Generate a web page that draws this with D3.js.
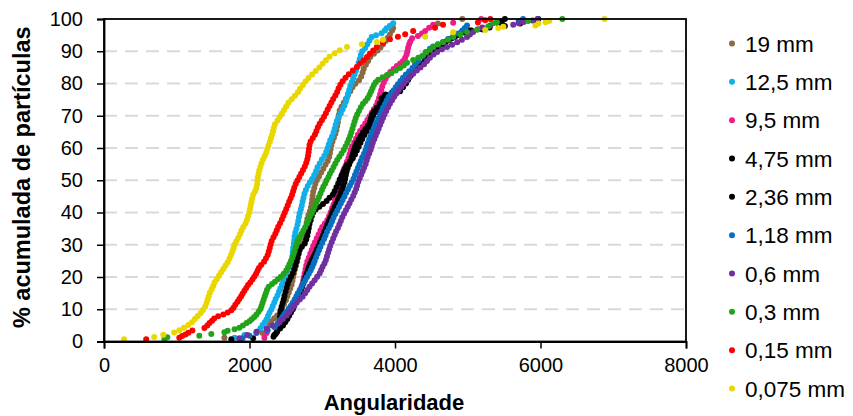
<!DOCTYPE html>
<html><head><meta charset="utf-8">
<script src="https://cdn.jsdelivr.net/npm/d3@7"></script>
<style>body{margin:0;background:#fff}svg{display:block}text{font-family:"Liberation Sans",Arial,sans-serif}</style>
</head><body><svg id="chart" width="853" height="416"></svg>
<script>
// ---- data (angularidade, % acumulada) ----
const seriesNames = ["19 mm","12,5 mm","9,5 mm","4,75 mm","2,36 mm","1,18 mm","0,6 mm","0,3 mm","0,15 mm","0,075 mm"];
const seriesColors = ["#8B6A43","#12AEE8","#EC1C8A","#000000","#000000","#0A6FC2","#7030A0","#22A31A","#FF0000","#E8D800"];
const xTickValues = [0,2000,4000,6000,8000];
const yTickValues = [0,10,20,30,40,50,60,70,80,90,100];
const xTitle = "Angularidade";
const yTitle = "% acumulada de partículas";

const s19mm = [[1655,1.2],[2180,2.6],[2240,3.9],[2275,5.2],[2300,6.3],[2340,7.2],[2380,8.1],[2420,9.2],[2450,10.4],[2475,11.6],[2500,12.8],[2520,14.0],[2540,15.2],[2560,16.4],[2578,17.6],[2590,18.8],[2600,20.0],[2612,21.2],[2625,22.4],[2640,23.6],[2655,24.8],[2662,26.0],[2670,27.2],[2680,28.4],[2695,29.6],[2715,30.8],[2735,32.0],[2750,33.2],[2762,34.4],[2775,35.6],[2785,36.8],[2795,38.0],[2810,39.2],[2830,40.4],[2845,41.6],[2855,42.8],[2862,44.0],[2868,45.2],[2875,46.4],[2890,47.6],[2905,48.8],[2925,50.0],[2955,51.2],[2985,52.4],[3015,53.6],[3045,54.8],[3075,56.0],[3095,57.2],[3105,58.4],[3115,59.6],[3125,60.8],[3140,62.0],[3160,63.2],[3180,64.4],[3195,65.6],[3205,66.8],[3215,68.0],[3222,69.2],[3230,70.4],[3240,71.6],[3265,72.8],[3295,74.0],[3325,75.2],[3355,76.4],[3385,77.6],[3415,78.8],[3455,79.9],[3505,81.0],[3535,82.2],[3555,83.4],[3570,84.6],[3600,85.8],[3630,87.0],[3660,88.2],[3710,89.2],[3760,90.2],[3800,91.2],[3835,92.2],[3870,93.2],[3900,94.2],[3930,95.2],[3960,96.4],[3975,97.2],[4590,98.6],[4925,100]];
const s12_5mm = [[1795,1.2],[1930,2.0],[2095,3.0],[2150,4.1],[2180,5.1],[2210,6.0],[2235,6.9],[2255,7.9],[2275,8.9],[2300,9.9],[2320,11.0],[2340,12.1],[2360,13.2],[2385,14.3],[2405,15.4],[2425,16.5],[2445,17.6],[2465,18.7],[2485,19.8],[2505,20.9],[2525,22.0],[2550,23.1],[2575,24.2],[2585,25.4],[2590,26.6],[2595,27.8],[2600,29.0],[2608,30.2],[2615,31.4],[2620,32.6],[2630,33.8],[2645,35.0],[2660,36.2],[2670,37.4],[2680,38.6],[2690,39.8],[2705,41.0],[2718,42.2],[2730,43.4],[2742,44.6],[2755,45.8],[2775,47.0],[2800,48.2],[2830,49.4],[2860,50.4],[2890,51.6],[2915,52.8],[2935,54.0],[2965,55.2],[2995,56.4],[3030,57.6],[3055,58.8],[3075,60.0],[3090,61.2],[3110,62.4],[3135,63.6],[3155,64.8],[3170,66.0],[3185,67.2],[3200,68.4],[3225,69.6],[3255,70.8],[3280,72.0],[3305,73.2],[3325,74.4],[3340,75.6],[3355,76.8],[3370,78.0],[3385,79.2],[3405,80.4],[3425,81.6],[3445,82.8],[3465,84.0],[3485,85.2],[3500,86.4],[3515,87.6],[3530,88.8],[3550,90.0],[3590,91.0],[3620,92.2],[3650,93.3],[3680,94.4],[3740,95.0],[3815,95.6],[3860,96.4],[3885,97.1],[3930,97.9],[3975,98.7]];
const s9_5mm = [[2205,1.2],[2235,2.6],[2380,3.8],[2455,5.0],[2495,6.3],[2525,7.5],[2550,8.7],[2575,9.9],[2600,11.1],[2625,12.3],[2650,13.4],[2670,14.3],[2690,15.2],[2710,16.4],[2725,17.6],[2738,18.8],[2748,20.0],[2758,21.2],[2770,22.4],[2780,23.6],[2795,24.8],[2815,26.0],[2835,27.2],[2855,28.4],[2875,29.6],[2900,30.8],[2925,32.0],[2950,33.2],[2975,34.4],[3000,35.5],[3035,36.6],[3070,37.7],[3095,38.9],[3115,40.1],[3135,41.3],[3155,42.5],[3175,43.7],[3195,44.9],[3210,46.1],[3225,47.3],[3240,48.5],[3250,49.7],[3262,50.9],[3275,52.1],[3295,53.3],[3320,54.5],[3340,55.7],[3360,56.9],[3375,58.1],[3390,59.3],[3410,60.5],[3440,61.7],[3465,62.9],[3490,64.1],[3520,65.3],[3555,66.5],[3590,67.6],[3620,68.7],[3650,69.8],[3680,70.9],[3710,72.0],[3740,73.1],[3760,74.3],[3780,75.5],[3795,76.7],[3810,77.9],[3825,79.1],[3845,80.3],[3870,81.4],[3900,82.5],[3935,83.6],[3980,84.5],[4025,85.4],[4070,86.2],[4110,87.0],[4140,88.0],[4160,89.0],[4170,90.0],[4180,91.1],[4195,92.2],[4210,93.0],[4235,94.0],[4315,94.7],[4370,95.5],[4415,96.3],[4470,97.3],[4525,98.2],[4800,98.8],[5185,100]];
const s4_75mm = [[1750,0.7],[2330,1.5],[2360,2.3],[2375,3.1],[2390,3.9],[2400,4.8],[2410,5.7],[2415,6.6],[2420,7.6],[2425,8.6],[2430,9.7],[2440,10.8],[2455,11.9],[2470,13.0],[2480,14.2],[2495,15.4],[2510,16.6],[2525,17.8],[2545,19.0],[2570,20.1],[2595,21.2],[2615,22.4],[2630,23.6],[2645,24.8],[2660,26.0],[2675,27.2],[2690,28.4],[2720,29.4],[2760,30.4],[2780,31.6],[2795,32.8],[2805,34.0],[2815,35.2],[2825,36.4],[2840,37.6],[2855,38.8],[2875,40.0],[2910,41.0],[2960,41.8],[3010,42.6],[3060,43.6],[3100,44.6],[3145,45.5],[3170,46.6],[3195,47.8],[3220,49.0],[3240,50.2],[3265,51.4],[3290,52.6],[3315,53.8],[3340,54.8],[3380,55.8],[3420,56.8],[3450,58.0],[3475,59.2],[3500,60.4],[3525,61.6],[3550,62.8],[3580,64.0],[3610,65.2],[3640,66.4],[3665,67.6],[3680,68.8],[3700,70.0],[3740,71.2],[3790,72.4],[3810,73.8],[3830,75.2],[3860,76.2],[3950,76.8],[4070,77.6],[4110,78.8],[4150,80.0],[4180,81.2],[4215,82.4],[4250,83.5],[4290,84.6],[4370,86.0],[4440,88.0],[4500,89.6],[4560,90.6],[4620,91.8],[4700,93.0],[4780,94.0],[4855,95.0],[4900,95.6],[5030,96.4],[5200,96.8],[5420,98.6],[5470,99.3],[5510,100]];
const s2_36mm = [[2050,1.0],[2340,2.0],[2380,3.0],[2420,4.0],[2460,5.0],[2490,6.0],[2520,7.0],[2545,8.0],[2570,9.0],[2595,10.0],[2615,11.0],[2635,12.0],[2655,13.0],[2670,14.0],[2690,15.0],[2710,16.0],[2725,17.0],[2740,18.0],[2755,19.0],[2770,20.0],[2785,21.0],[2800,22.0],[2815,23.0],[2835,24.1],[2855,25.2],[2880,26.3],[2905,27.4],[2925,28.5],[2950,29.6],[2970,30.7],[2990,31.8],[3010,32.9],[3030,34.0],[3050,35.1],[3070,36.2],[3090,37.3],[3110,38.4],[3130,39.5],[3150,40.6],[3170,41.7],[3195,42.8],[3215,43.9],[3235,45.0],[3255,46.1],[3275,47.2],[3290,48.3],[3305,49.4],[3315,50.5],[3325,51.6],[3335,52.7],[3350,53.8],[3370,54.9],[3390,56.0],[3405,57.1],[3420,58.2],[3435,59.3],[3450,60.4],[3470,61.5],[3500,62.6],[3530,63.7],[3560,64.8],[3595,65.9],[3630,67.0],[3655,68.1],[3670,69.2],[3685,70.3],[3710,71.4],[3750,72.5],[3790,73.8],[3815,75.4],[3870,76.6],[3960,77.2],[4040,77.9],[4080,78.9],[4120,79.9],[4160,80.9],[4190,81.9],[4220,82.9],[4260,84.0],[4310,85.0],[4360,86.2],[4410,87.6],[4460,88.8],[4525,90.0],[4590,91.0],[4660,92.2],[4740,93.4],[4820,94.4],[4895,95.3],[4960,95.8],[5050,96.4],[5200,96.8],[5300,97.4],[5510,97.8],[5720,98.6],[5930,99.3],[5970,100]];
const s1_18mm = [[1905,1.0],[2000,1.8],[2095,2.6],[2250,3.5],[2345,4.4],[2385,5.5],[2415,6.6],[2450,7.6],[2480,8.5],[2510,9.3],[2540,10.2],[2570,11.1],[2595,12.0],[2620,13.0],[2645,14.0],[2665,15.0],[2690,16.0],[2715,17.0],[2740,18.0],[2765,19.0],[2790,20.0],[2815,21.0],[2840,22.0],[2860,23.0],[2880,24.0],[2895,25.0],[2915,26.1],[2935,27.2],[2955,28.3],[2975,29.4],[3000,30.6],[3025,31.8],[3045,32.9],[3065,34.0],[3090,35.1],[3115,36.2],[3135,37.3],[3155,38.4],[3180,39.5],[3205,40.6],[3230,41.7],[3255,42.8],[3280,43.9],[3305,45.0],[3330,46.1],[3355,47.2],[3380,48.3],[3405,49.4],[3430,50.5],[3450,51.6],[3470,52.7],[3490,53.8],[3510,54.9],[3530,56.0],[3550,57.1],[3575,58.2],[3595,59.3],[3610,60.4],[3625,61.5],[3645,62.6],[3665,63.7],[3685,64.8],[3705,65.9],[3725,67.0],[3745,68.1],[3770,69.2],[3795,70.3],[3815,71.4],[3835,72.5],[3860,73.6],[3885,74.7],[3910,75.8],[3945,76.8],[3980,77.8],[4010,78.8],[4040,79.8],[4075,80.8],[4110,81.8],[4150,82.8],[4195,83.8],[4240,84.8],[4275,85.8],[4320,87.0],[4370,88.4],[4425,89.8],[4480,90.8],[4525,91.5],[4590,92.2],[4660,92.9],[4730,93.8],[4800,94.6],[4870,95.5],[4925,96.4],[4960,97.2],[4990,98.0],[5700,99.3],[5760,100]];
const s0_6mm = [[1860,1.0],[1970,2.0],[2100,3.0],[2235,4.0],[2315,5.0],[2415,6.0],[2460,7.0],[2510,8.1],[2545,9.1],[2580,10.1],[2615,11.1],[2650,12.1],[2690,13.0],[2730,13.9],[2765,15.0],[2795,16.0],[2825,17.0],[2860,18.0],[2895,19.0],[2930,20.1],[2965,21.2],[2985,22.2],[3005,23.2],[3030,24.2],[3050,25.3],[3065,26.4],[3080,27.5],[3095,28.6],[3110,29.7],[3130,30.8],[3150,31.9],[3170,33.0],[3190,34.1],[3215,35.2],[3235,36.3],[3255,37.4],[3275,38.5],[3300,39.6],[3325,40.7],[3350,41.8],[3375,42.9],[3400,44.0],[3425,45.1],[3445,46.2],[3465,47.3],[3480,48.4],[3495,49.5],[3515,50.6],[3535,51.7],[3555,52.8],[3575,53.9],[3595,55.0],[3610,56.1],[3625,57.2],[3645,58.3],[3665,59.4],[3680,60.5],[3695,61.6],[3715,62.7],[3735,63.8],[3755,64.9],[3775,66.0],[3795,67.1],[3815,68.2],[3835,69.3],[3855,70.4],[3880,71.5],[3905,72.6],[3930,73.7],[3960,74.8],[3990,75.9],[4020,76.9],[4050,77.9],[4085,78.9],[4120,79.9],[4160,80.9],[4200,81.9],[4250,83.0],[4300,84.0],[4350,85.0],[4400,86.0],[4440,87.0],[4480,88.0],[4530,89.0],[4580,89.8],[4645,90.6],[4715,91.3],[4785,92.0],[4855,92.8],[4920,93.6],[4990,94.4],[5030,95.2],[5075,96.0],[5140,96.8],[5200,97.4],[5310,98.0],[5625,98.2],[5700,98.7],[5770,99.1],[5890,99.5],[5960,100]];
const s0_3mm = [[830,0.7],[870,1.3],[1310,1.8],[1475,2.3],[1655,2.9],[1700,3.3],[1795,3.8],[1860,4.3],[1910,5.0],[1960,5.7],[2000,6.3],[2030,6.9],[2065,7.6],[2095,8.3],[2125,9.2],[2150,10.1],[2165,11.0],[2180,12.0],[2195,13.0],[2210,14.0],[2225,15.0],[2240,16.0],[2265,17.0],[2310,17.8],[2350,18.5],[2390,19.3],[2430,20.1],[2470,21.0],[2505,22.0],[2530,23.0],[2550,24.0],[2570,25.0],[2590,26.0],[2605,27.0],[2620,28.1],[2635,29.2],[2650,30.3],[2665,31.4],[2690,32.4],[2715,33.4],[2740,34.4],[2765,35.4],[2790,36.5],[2810,37.6],[2830,38.7],[2855,39.8],[2875,40.8],[2895,41.8],[2915,42.8],[2935,43.8],[2955,44.8],[2975,45.9],[2995,47.0],[3015,48.0],[3040,49.0],[3060,50.0],[3085,51.0],[3105,52.0],[3130,53.0],[3155,54.1],[3180,55.2],[3205,56.3],[3235,57.3],[3265,58.3],[3295,59.4],[3320,60.5],[3345,61.6],[3365,62.7],[3385,63.8],[3400,64.9],[3415,66.0],[3430,67.1],[3445,68.2],[3460,69.3],[3480,70.4],[3505,71.5],[3530,72.6],[3560,73.7],[3595,74.6],[3625,75.5],[3650,76.5],[3670,77.5],[3690,78.5],[3710,79.5],[3735,80.4],[3770,81.2],[3830,81.9],[3890,82.6],[3950,83.2],[4010,84.0],[4070,84.8],[4120,85.6],[4165,86.4],[4250,87.3],[4320,88.0],[4385,88.7],[4430,89.6],[4480,90.5],[4525,91.3],[4590,92.1],[4660,92.8],[4730,93.6],[4800,94.4],[4900,95.2],[4990,96.0],[5130,96.7],[5280,97.7],[5350,98.7],[5400,99.0],[5830,99.4],[6300,100]];
const s0_15mm = [[580,0.7],[1035,1.2],[1075,1.7],[1120,2.2],[1160,2.7],[1215,3.4],[1380,4.2],[1420,5.0],[1450,5.7],[1485,6.4],[1515,7.1],[1570,7.8],[1640,8.4],[1700,9.0],[1750,9.7],[1780,10.5],[1805,11.4],[1835,12.3],[1860,13.2],[1885,14.0],[1905,14.8],[1930,15.7],[1955,16.6],[1980,17.5],[2010,18.3],[2040,19.2],[2065,20.1],[2090,21.0],[2110,21.9],[2130,22.8],[2160,23.7],[2200,24.7],[2225,25.7],[2250,26.8],[2265,27.9],[2278,29.0],[2290,30.1],[2305,31.2],[2330,32.3],[2355,33.4],[2375,34.5],[2395,35.6],[2420,36.7],[2445,37.8],[2465,38.9],[2485,40.0],[2505,41.1],[2525,42.2],[2545,43.3],[2565,44.4],[2585,45.5],[2600,46.6],[2615,47.7],[2635,48.8],[2660,49.9],[2685,51.0],[2710,52.1],[2735,53.2],[2760,54.3],[2780,55.4],[2795,56.5],[2805,57.6],[2812,58.7],[2818,59.8],[2825,60.9],[2840,62.0],[2870,63.1],[2900,64.2],[2920,65.3],[2940,66.4],[2965,67.5],[2995,68.6],[3025,69.7],[3050,70.8],[3075,71.9],[3100,73.0],[3125,74.1],[3150,75.2],[3180,76.3],[3205,77.4],[3225,78.5],[3250,79.6],[3280,80.7],[3320,81.8],[3365,82.9],[3420,84.0],[3475,85.1],[3520,86.2],[3570,87.2],[3615,88.2],[3655,89.2],[3700,90.2],[3750,91.3],[3835,92.6],[3930,93.7],[4040,94.5],[4140,95.3],[4250,96.3],[4550,97.3],[4660,98.2],[5140,98.9],[5240,99.6],[5310,100]];
const s0_075mm = [[276,0.7],[690,1.4],[815,2.1],[965,2.8],[1035,3.5],[1100,4.3],[1160,5.1],[1210,6.0],[1250,7.0],[1290,7.9],[1330,8.8],[1360,9.8],[1390,10.8],[1410,11.9],[1425,13.0],[1440,14.0],[1455,15.1],[1480,16.2],[1500,17.2],[1520,18.3],[1550,19.3],[1580,20.4],[1610,21.5],[1640,22.5],[1670,23.6],[1700,24.6],[1725,25.7],[1745,26.8],[1765,27.9],[1780,28.9],[1795,30.0],[1820,31.1],[1845,32.2],[1870,33.3],[1890,34.4],[1915,35.5],[1945,36.6],[1965,37.7],[1980,38.8],[1995,39.9],[2005,41.0],[2015,42.1],[2025,43.2],[2035,44.3],[2050,45.4],[2075,46.5],[2095,47.6],[2103,48.7],[2108,49.8],[2114,50.9],[2125,52.0],[2135,53.1],[2150,54.2],[2165,55.3],[2185,56.4],[2210,57.5],[2230,58.6],[2245,59.7],[2260,60.8],[2280,61.9],[2295,63.0],[2310,64.1],[2322,65.2],[2335,66.3],[2350,67.4],[2385,68.5],[2415,69.6],[2445,70.7],[2475,71.8],[2505,72.9],[2535,74.0],[2580,75.1],[2625,76.2],[2665,77.3],[2695,78.4],[2735,79.5],[2770,80.6],[2810,81.7],[2860,82.8],[2910,83.9],[2960,85.0],[3005,86.1],[3050,87.2],[3100,88.3],[3170,89.4],[3240,90.3],[3340,91.3],[3545,92.2],[3750,92.9],[3835,93.6],[4415,94.5],[4800,95.9],[5240,96.6],[5420,97.2],[5490,97.6],[5930,98.0],[5970,98.6],[6070,99.0],[6120,99.4],[6880,100]];

const seriesData = [s19mm,s12_5mm,s9_5mm,s4_75mm,s2_36mm,s1_18mm,s0_6mm,s0_3mm,s0_15mm,s0_075mm];

// ---- drawing ----
const svg = d3.select("#chart");
const L = 104, R = 686, T = 19, B = 341.5;
const x = d3.scaleLinear().domain([0,8000]).range([L,R]);
const y = d3.scaleLinear().domain([0,100]).range([B,T]);

// gridlines
svg.append("g").selectAll("line").data(yTickValues.filter(v => v > 0 && v < 100)).join("line")
  .attr("x1", L).attr("x2", R).attr("y1", d => y(d)).attr("y2", d => y(d))
  .attr("stroke", "#d9d9d9").attr("stroke-width", 2).attr("stroke-dasharray", "13,8");

// points
seriesData.forEach((data, i) => {
  svg.append("g").selectAll("circle").data(data).join("circle")
    .attr("cx", d => x(d[0])).attr("cy", d => y(d[1])).attr("r", 3)
    .attr("fill", seriesColors[i]);
});

// frame
svg.append("rect").attr("x", L).attr("y", T).attr("width", R - L).attr("height", B - T)
  .attr("fill", "none").attr("stroke", "#000").attr("stroke-width", 1.8);

// axes
const yAxis = d3.axisLeft(y).tickValues(yTickValues).tickSize(7).tickPadding(14).tickFormat(d3.format("d"));
const gy = svg.append("g").attr("transform", `translate(${L},0)`).call(yAxis);
const xAxis = d3.axisBottom(x).tickValues(xTickValues).tickSize(7).tickPadding(9).tickFormat(d3.format("d"));
const gx = svg.append("g").attr("transform", `translate(0,${B})`).call(xAxis);
[gx, gy].forEach(g => {
  g.select(".domain").attr("stroke", "#000").attr("stroke-width", 1.8);
  g.selectAll(".tick line").attr("stroke", "#000").attr("stroke-width", 1.5);
  g.selectAll(".tick text").attr("fill", "#000").style("font-size", "20px")
   .style("font-family", '"Liberation Sans", Arial, sans-serif');
});

// axis titles
svg.append("text").attr("x", 394).attr("y", 410).attr("text-anchor", "middle")
  .style("font-size", "22px").style("font-weight", "bold").text(xTitle);
svg.append("text").attr("transform", `translate(30,${(T + B) / 2 - 3}) rotate(-90)`).attr("text-anchor", "middle")
  .style("font-size", "23.5px").style("font-weight", "bold").text(yTitle);

// legend
const lg = svg.append("g");
seriesNames.forEach((name, i) => {
  const cy = 43.5 + i * 38.33;
  lg.append("circle").attr("cx", 732).attr("cy", cy).attr("r", 3).attr("fill", seriesColors[i]);
  lg.append("text").attr("x", 745).attr("y", cy).attr("dy", "0.36em")
    .style("font-size", "22.5px").attr("fill", "#000").text(name);
});
</script></body></html>
